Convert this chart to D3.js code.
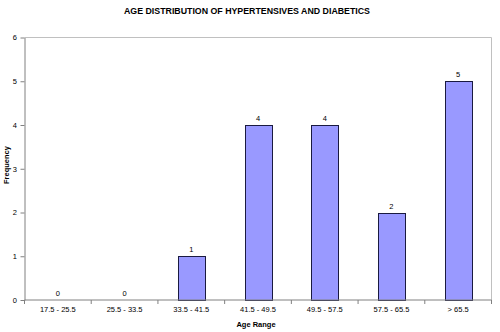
<!DOCTYPE html>
<html>
<head>
<meta charset="utf-8">
<script src="https://cdn.jsdelivr.net/npm/d3@7"></script>
<style>
  body { margin: 0; background: #fff; }
  svg { display: block; font-family: "Liberation Sans", Arial, sans-serif; }
</style>
</head>
<body>
<div id="chart"></div>
<script>
// Podatki
const ageRanges = ["17.5 - 25.5", "25.5 - 33.5", "33.5 - 41.5", "41.5 - 49.5", "49.5 - 57.5", "57.5 - 65.5", "> 65.5"];
const frequencies = [0, 0, 1, 4, 4, 2, 5];
const yTicks = [0, 1, 2, 3, 4, 5, 6];

const width = 500;
const height = 332;
const marginTop = 37.5;
const marginRight = 8.5;
const marginBottom = 32;
const marginLeft = 24.5;

const svg = d3.select("#chart").append("svg")
    .attr("width", width)
    .attr("height", height);

const x = d3.scaleBand()
    .domain(ageRanges)
    .range([marginLeft, width - marginRight])
    .paddingInner(0.6)
    .paddingOuter(0.3);

// meje kategorij za oznake na osi
const step = (width - marginRight - marginLeft) / ageRanges.length;

const y = d3.scaleLinear()
    .domain([0, 6])
    .range([height - marginBottom, marginTop]);

// okvir risalne površine (zgoraj, desno)
svg.append("path")
    .attr("d", `M${marginLeft},${marginTop}H${width - marginRight}V${height - marginBottom}`)
    .attr("fill", "none")
    .attr("stroke", "#c0c0c0");

// stolpci
svg.append("g")
    .selectAll("rect")
    .data(frequencies)
    .join("rect")
    .attr("x", (d, i) => Math.round(x(ageRanges[i])) + 0.5)
    .attr("y", d => Math.round(y(d)) + 0.5)
    .attr("width", Math.round(x.bandwidth()))
    .attr("height", d => Math.round(y(0)) - Math.round(y(d)))
    .attr("fill", "#9999ff")
    .attr("stroke", "#1a1a40")
    .attr("stroke-width", 1)
    .style("display", d => d === 0 ? "none" : null);

// oznake vrednosti
svg.append("g")
    .selectAll("text")
    .data(frequencies)
    .join("text")
    .attr("x", (d, i) => x(ageRanges[i]) + x.bandwidth() / 2)
    .attr("y", d => y(d) - 4)
    .attr("text-anchor", "middle")
    .attr("font-size", 7.5)
    .attr("fill", "#000")
    .text(d => d);

// os y
const gy = svg.append("g")
    .attr("transform", `translate(${marginLeft},0)`)
    .call(d3.axisLeft(y).tickValues(yTicks).tickFormat(d3.format("d")).tickSize(4).tickPadding(3.5).tickSizeOuter(0));
gy.select(".domain").attr("stroke", "#808080");
gy.selectAll(".tick line").attr("stroke", "#808080");
gy.selectAll(".tick text").attr("font-size", 7.5).attr("font-family", "Liberation Sans, Arial, sans-serif").attr("fill", "#000");

// os x
const xPos = d3.scaleOrdinal().domain(ageRanges).range(ageRanges.map((d, i) => marginLeft + step * (i + 0.5)));
const gx = svg.append("g")
    .attr("transform", `translate(0,${height - marginBottom})`);
gx.append("line")
    .attr("x1", marginLeft).attr("x2", width - marginRight)
    .attr("stroke", "#808080");
gx.selectAll("line.tk")
    .data(d3.range(ageRanges.length + 1))
    .join("line")
    .attr("class", "tk")
    .attr("x1", i => marginLeft + step * i)
    .attr("x2", i => marginLeft + step * i)
    .attr("y1", 0).attr("y2", 4)
    .attr("stroke", "#808080");
gx.selectAll("text")
    .data(ageRanges)
    .join("text")
    .attr("x", d => xPos(d))
    .attr("y", 12)
    .attr("text-anchor", "middle")
    .attr("font-size", 7.5)
    .text(d => d);

// naslovi
svg.append("text")
    .attr("x", 247)
    .attr("y", 14)
    .attr("text-anchor", "middle")
    .attr("font-size", 8.8)
    .attr("font-weight", "bold")
    .text("AGE DISTRIBUTION OF HYPERTENSIVES AND DIABETICS");

svg.append("text")
    .attr("x", 256)
    .attr("y", 327)
    .attr("text-anchor", "middle")
    .attr("font-size", 7.5)
    .attr("font-weight", "bold")
    .text("Age Range");

svg.append("text")
    .attr("transform", "translate(9,165) rotate(-90)")
    .attr("text-anchor", "middle")
    .attr("font-size", 7.5)
    .attr("font-weight", "bold")
    .text("Frequency");
</script>
</body>
</html>
